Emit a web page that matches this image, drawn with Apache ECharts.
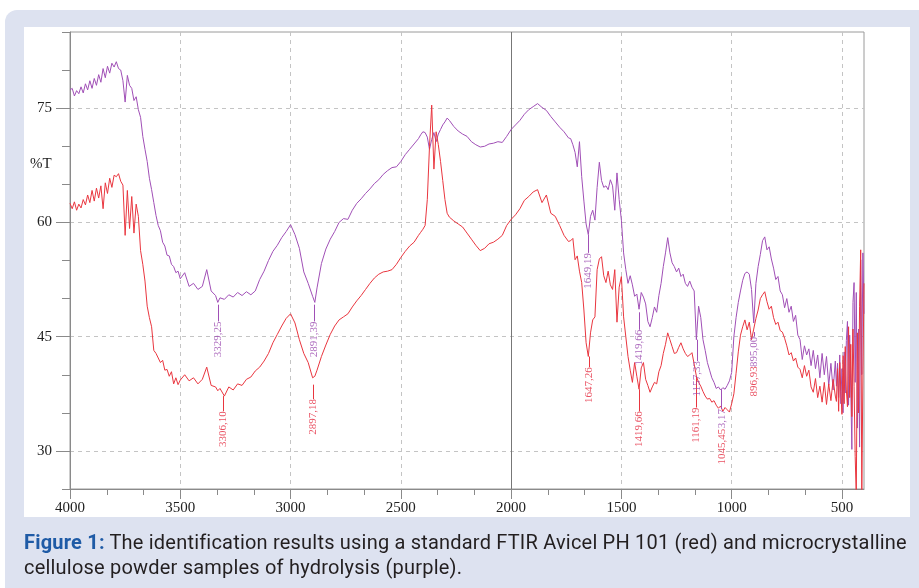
<!DOCTYPE html>
<html>
<head>
<meta charset="utf-8">
<script src="https://cdn.jsdelivr.net/npm/echarts@6/dist/echarts.min.js"></script>
<style>
html,body{margin:0;padding:0;background:#fff;width:919px;height:588px;overflow:hidden}
#panel{position:absolute;left:5px;top:10px;width:914px;height:578px;background:#dde2f0;border-top-left-radius:12px}
#box{position:absolute;left:24px;top:27px;width:886px;height:490px;background:#fff}
#chart{position:absolute;left:0;top:0;width:919px;height:588px}
#caption{position:absolute;left:24px;top:530px;width:895px;font-family:Roboto,"Open Sans",sans-serif;font-size:20px;letter-spacing:0.2px;line-height:25px;color:#231f20;white-space:nowrap}
#caption b{color:#1f5ba6}
</style>
</head>
<body>
<div id="panel"></div>
<div id="box"></div>
<div id="chart"></div>
<div id="caption"><b>Figure 1:</b> The identification results using a standard FTIR Avicel PH 101 (red) and microcrystalline<br>cellulose powder samples of hydrolysis (purple).</div>
<script>
// ---- data (wavenumber in cm-1, transmittance in %T) ----
const wavenumbers = [
4000,3990,3980,3970,3960,3950,3940,3930,3920,3910,
3900,3890,3880,3870,3860,3850,3840,3830,3820,3810,
3800,3790,3780,3770,3760,3750,3740,3730,3720,3710,
3700,3690,3680,3670,3660,3650,3640,3630,3620,3610,
3600,3590,3580,3570,3560,3550,3540,3530,3520,3510,
3500,
3480,3460,3440,3420,3400,3380,3360,3340,3330,
3320,3300,3280,3260,3240,3220,3200,3180,3160,3140,3120,3100,3080,3060,3040,3020,3000,2980,2960,2940,2920,2900,
2890,
2880,2860,2840,2820,2800,2780,2760,2740,2720,2700,2680,2660,2640,2620,2600,2580,2560,2540,2520,2500,2480,2460,2440,
2420,2410,2400,2390,2380,2370,2360,2350,2340,2330,2320,2310,2300,2290,2280,
2260,2240,2220,2200,2180,2160,2140,2120,2100,2080,2060,2040,2020,2000,1980,1960,1940,1920,1900,1880,1860,1840,1820,1800,1780,1760,1740,
1730,1720,1710,1700,1690,1680,1670,1660,1650,1640,
1630,1620,1610,1600,1590,1580,1570,1560,1550,1540,
1530,1520,1510,1500,1490,1480,1470,1460,1450,1440,
1430,1420,1410,1400,1390,1380,1370,1360,1350,1340,
1330,1320,1310,1300,1290,1280,1270,1260,1250,1240,
1230,1220,1210,1200,1190,1180,1170,1160,1150,1140,
1130,1120,1110,1100,1090,1080,1070,1060,1050,1040,
1030,1020,1010,1000,990,980,970,960,950,940,
930,920,910,900,890,880,870,860,850,840,
830,820,810,800,790,780,770,760,750,740,
730,720,710,700,690,680,670,660,650,640,
630,620,610,600,590,580,570,560,550,540,
530,
525,520,515,510,505,500,495,490,485,480,475,470,465,460,455,450,445,440,435,430,425,420,415,410,405,400
];

// microcrystalline cellulose, hydrolysis sample (purple)
const purpleT = [
77.4,77.6,76.6,77.3,76.9,77.8,77.0,78.2,77.4,78.6,
77.6,78.9,78.0,79.4,78.4,80.2,79.0,80.5,79.6,80.9,
80.4,81.1,80.2,80.0,78.6,75.8,79.3,78.0,77.6,76.0,
76.5,74.8,73.8,71.3,69.6,68.0,65.8,64.3,62.6,60.9,
59.6,58.9,57.4,56.9,55.7,55.6,54.5,54.2,53.4,53.6,
52.6,
53.4,51.6,52.0,51.2,51.6,53.8,51.0,50.4,49.5,
50.1,49.9,50.5,50.2,50.8,50.4,50.9,50.5,51.0,52.5,53.6,55.0,56.2,57.0,58.0,58.8,59.7,58.4,56.6,53.5,52.0,50.3,
49.5,
51.4,54.6,56.5,57.8,58.8,60.0,60.5,60.4,61.6,62.5,63.1,63.8,64.4,65.1,65.6,66.3,66.8,67.2,67.3,68.0,68.9,69.6,70.3,
71.0,71.5,71.9,71.8,71.2,69.6,70.9,71.8,70.6,71.6,72.2,72.8,73.2,73.7,73.4,
72.6,72.0,71.6,71.3,70.6,70.2,69.9,70.0,70.3,70.4,70.6,70.5,71.3,72.2,72.8,73.4,74.2,74.8,75.2,75.6,75.1,74.7,73.9,73.2,72.5,71.9,71.1,
71.0,70.2,69.2,67.3,70.6,66.0,62.8,59.8,58.4,60.8,
61.6,60.3,64.6,67.9,65.5,64.6,64.8,64.3,65.6,64.8,
61.6,66.5,63.0,60.3,56.0,53.8,52.0,53.0,51.8,50.3,
50.6,48.6,50.8,50.2,49.3,47.0,46.3,47.5,48.9,48.2,
50.4,52.0,54.2,56.0,58.0,56.0,54.7,54.2,53.5,54.0,
52.9,53.2,52.0,51.6,52.3,51.5,51.0,44.6,49.0,47.5,
44.6,43.2,41.6,40.6,39.6,39.0,38.2,38.4,38.0,38.3,
38.1,38.6,39.2,40.3,45.0,47.5,49.5,51.0,52.4,53.3,
53.5,53.2,51.2,46.8,52.0,54.2,55.8,57.6,58.1,56.4,
56.8,55.2,54.0,52.5,52.9,51.0,50.5,48.8,50.0,48.2,
49.0,47.0,47.8,45.2,44.6,42.0,43.8,42.6,43.4,41.2,
43.2,40.8,42.6,39.6,42.8,40.0,42.4,38.6,41.5,38.0,
41.8,
38.5,41.5,37.0,42.6,36.2,40.8,35.0,43.0,37.6,44.5,47.0,36.0,45.2,38.0,30.2,49.5,52.1,39.0,50.8,33.0,46.0,30.5,55.1,40.0,56.0,48.0
];

// standard Avicel PH 101 (red)
const redT = [
62.5,61.8,62.7,61.6,62.4,61.9,63.0,62.3,63.6,62.6,
64.2,62.8,64.5,63.2,64.8,61.8,65.2,63.8,65.8,64.6,
66.2,66.0,66.4,65.4,64.9,58.3,64.2,59.2,63.4,58.6,
62.4,60.8,56.3,54.5,52.3,49.0,47.5,46.3,43.2,42.8,
42.2,41.6,41.9,40.6,40.7,39.8,40.4,38.8,39.6,38.7,
39.3,
40.0,39.2,39.6,38.8,39.4,41.0,38.6,38.4,37.9,
38.2,37.2,38.4,38.0,38.8,38.6,39.4,39.7,40.5,41.0,41.8,42.8,44.2,45.3,46.4,47.4,48.0,46.8,44.6,42.8,41.6,39.6,
39.8,
40.6,42.4,43.9,45.3,46.4,47.2,47.6,48.0,48.9,49.7,50.4,51.2,52.0,52.7,53.2,53.5,53.6,53.8,54.5,55.4,56.2,56.9,57.4,
58.3,58.7,59.1,59.6,63.0,70.0,75.4,67.0,71.9,70.2,68.0,65.5,63.0,61.2,60.7,
60.2,59.8,59.4,58.6,57.8,57.0,56.3,56.6,57.2,57.4,57.8,58.3,59.6,60.4,61.0,61.8,62.9,63.4,64.0,64.3,62.6,63.6,61.2,60.8,59.6,58.3,57.5,
57.6,57.9,55.1,55.6,53.6,52.1,48.5,44.2,42.4,45.5,
47.2,47.6,53.8,55.2,55.5,53.0,52.1,53.6,51.8,51.2,
53.8,46.9,51.5,52.9,47.6,45.0,42.4,40.6,39.0,41.6,
39.8,38.1,40.9,41.6,39.4,38.6,37.7,38.4,39.0,38.8,
40.4,41.2,42.8,44.0,45.5,44.6,43.7,42.8,42.9,43.6,
44.2,43.4,42.8,42.4,42.6,42.9,41.4,39.8,39.0,38.5,
37.8,37.2,36.8,36.9,36.4,36.6,36.0,35.6,35.9,35.2,
35.7,35.4,35.1,36.2,37.5,40.2,43.0,45.2,46.3,47.2,
45.9,46.9,44.6,46.0,47.4,48.5,50.0,50.5,50.9,49.6,
48.6,49.0,47.5,46.6,46.9,45.8,45.6,44.8,43.8,42.6,
42.9,41.8,42.2,41.0,40.7,39.6,41.2,39.8,40.6,38.4,
37.7,39.5,37.0,38.5,36.4,39.0,36.1,38.8,36.6,39.4,
37.2,
36.5,40.8,35.2,41.6,37.8,34.8,42.5,36.2,43.7,38.0,35.8,46.3,37.0,44.0,34.5,46.0,38.5,29.3,24.0,45.5,35.0,49.0,56.4,24.0,40.0,52.0
];

// peak annotations: [wavenumber, %T at curve, %T at label top, text]
const purplePeaks = [
  [3329.25, 49.2, 47.0, '3329,25'],
  [2891.39, 49.2, 47.0, '2891,39'],
  [1649.19, 58.4, 56.0, '1649,19'],
  [1419.66, 48.2, 45.9, '1419,66'],
  [1157.33, 44.6, 41.8, '1157,33'],
  [1045.45, 38.1, 35.5, '3,17'],
  [896.00, 45.6, 45.0, '895,00']
];
const redPeaks = [
  [3306.10, 37.2, 35.2, '3306,10'],
  [2897.18, 38.7, 36.8, '2897,18'],
  [1647.26, 42.4, 41.0, '1647,26'],
  [1419.66, 38.1, 35.2, '1419,66'],
  [1161.19, 39.8, 35.7, '1161,19'],
  [1045.45, 32.9, 32.9, '1045,45'],
  [896.00, 41.1, 41.1, '896,93']
];

const xMajorTicks = [500,1000,1500,2000,2500,3000,3500,4000];
const yMajorTicks = [30,45,60,75];

// ---- chart ----
const PURPLE = '#a04fb6', RED = '#e9363f';
const PURPLE_TXT = '#9744ad', RED_TXT = '#e4243a';
const serif = '"Liberation Serif","Times New Roman",serif';

const xMinorTicks = [];
xMajorTicks.forEach(m => { xMinorTicks.push(m - 500/3, m - 1000/3); });

function segs(peaks) {
  return peaks.filter(p => p[1] !== p[2]).map(p => [{coord:[p[0], p[1]]},{coord:[p[0], p[2]]}]);
}
function labelSeries(peaks, color) {
  return {
    type:'scatter', symbolSize:1, z:5, silent:true,
    itemStyle:{color:'transparent'},
    data: peaks.map(p => ({value:[p[0], p[2]], label:{formatter:p[3]}})),
    label:{show:true, position:'inside', align:'right', verticalAlign:'middle', rotate:90,
           color:color, fontFamily:serif, fontSize:11, distance:0}
  };
}

const chart = echarts.init(document.getElementById('chart'), null, {renderer:'canvas'});
chart.setOption({
  animation:false,
  backgroundColor:'transparent',
  grid:{left:70, top:32, right:55, bottom:99, show:true, borderColor:'#9a9a9a', borderWidth:1},
  graphic:[{type:'text', left:30, top:157, style:{text:'%T', font:'15px ' + serif, fill:'#222'}}],
  xAxis:[
    {type:'value', inverse:true, min:400, max:4000, position:'bottom',
     axisLine:{show:true, lineStyle:{color:'#8a8a8a'}},
     axisTick:{show:true, customValues:xMajorTicks, length:10, lineStyle:{color:'#8a8a8a'}},
     axisLabel:{customValues:xMajorTicks, formatter:v => String(v), fontFamily:serif, fontSize:15, color:'#222', margin:12},
     splitLine:{show:true, lineStyle:{type:[4,4], color:'#c4c4c4', width:1}}},
    {type:'value', inverse:true, min:400, max:4000, position:'bottom',
     axisLine:{show:false},
     axisTick:{show:true, customValues:xMinorTicks, length:6, lineStyle:{color:'#8a8a8a'}},
     axisLabel:{show:false}, splitLine:{show:false}}
  ],
  yAxis:[
    {type:'value', min:25, max:85, position:'left',
     axisLine:{show:true, lineStyle:{color:'#8a8a8a'}},
     axisTick:{show:true, customValues:yMajorTicks, length:14, lineStyle:{color:'#8a8a8a'}},
     axisLabel:{customValues:yMajorTicks, formatter:v => String(v), fontFamily:serif, fontSize:15, color:'#222', margin:18},
     splitLine:{show:true, lineStyle:{type:[4,4], color:'#c4c4c4', width:1}}},
    {type:'value', min:25, max:85, interval:5, position:'left',
     axisLine:{show:false},
     axisTick:{show:true, length:8, lineStyle:{color:'#8a8a8a'}},
     axisLabel:{show:false}, splitLine:{show:false}}
  ],
  series:[
    {type:'line', name:'purple', showSymbol:false, z:2,
     data: wavenumbers.map((w,i)=>[w, purpleT[i]]),
     lineStyle:{color:PURPLE, width:1}, itemStyle:{color:PURPLE},
     markLine:{silent:true, symbol:'none', label:{show:false},
       lineStyle:{color:PURPLE, width:1, type:'solid'}, data: segs(purplePeaks)}},
    {type:'line', name:'red', showSymbol:false, z:3,
     data: wavenumbers.map((w,i)=>[w, redT[i]]),
     lineStyle:{color:RED, width:1}, itemStyle:{color:RED},
     markLine:{silent:true, symbol:'none', label:{show:false},
       lineStyle:{color:RED, width:1, type:'solid'}, data: segs(redPeaks)}},
    {type:'line', name:'frame', data:[], z:1,
     markLine:{silent:true, symbol:'none', label:{show:false}, z:1,
       lineStyle:{color:'#777', width:1, type:'solid'}, data:[{xAxis:2000}]}},
    labelSeries(purplePeaks, PURPLE_TXT),
    labelSeries(redPeaks, RED_TXT)
  ]
});
</script>
</body>
</html>
